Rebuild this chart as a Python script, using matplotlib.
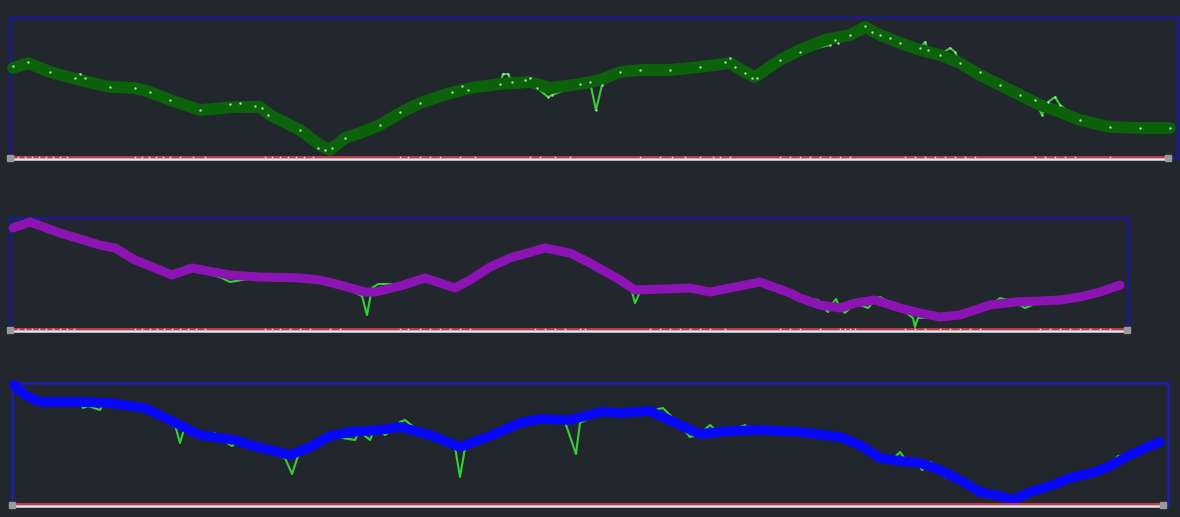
import matplotlib
matplotlib.use('Agg')
import matplotlib.pyplot as plt
import numpy as np

W, H = 1180, 517
BG = '#22262d'

# profile 1 (dark green) - station / depth
p1_x = [13, 28, 50, 80, 110, 135, 150, 170, 200, 235, 260, 270, 300, 320, 330, 345, 360, 380,
        400, 420, 450, 470, 500, 530, 550, 580, 600, 620, 640, 670, 700, 730, 745, 755, 780,
        800, 825, 850, 865, 880, 900, 920, 940, 960, 980, 1000, 1020, 1040, 1060, 1080, 1110,
        1140, 1170]
p1_y = [68, 63, 72, 80, 87, 88, 92, 100, 110, 107, 107, 115, 130, 145, 150, 138, 133, 125,
        113, 103, 93, 88, 84, 82, 88, 84, 80, 72, 70, 70, 67, 63, 72, 77, 60,
        50, 40, 35, 27, 35, 43, 50, 55, 63, 75, 85, 95, 105, 112, 120, 127,
        128, 128]
p1_raw_x = [13, 28, 50, 75, 80, 85, 110, 135, 150, 170, 200, 230, 240, 255, 262, 268, 300, 318,
            325, 332, 345, 380, 400, 420, 452, 462, 468, 500, 503, 508, 512, 525, 530, 537,
            548, 552, 580, 590, 596, 602, 620, 640, 670, 700, 725, 730, 735, 745, 752, 757,
            780, 800, 830, 835, 838, 850, 865, 872, 880, 890, 900, 920, 925, 928, 940, 950,
            955, 960, 980, 1000, 1020, 1035, 1042, 1048, 1055, 1060, 1080, 1110, 1140, 1170]
p1_raw_y = [66, 62, 72, 78, 74, 78, 87, 88, 92, 100, 110, 104, 103, 106, 108, 115, 130, 148,
            150, 148, 138, 125, 112, 103, 92, 86, 90, 84, 74, 74, 82, 80, 78, 88,
            97, 95, 84, 82, 110, 85, 72, 70, 70, 67, 62, 58, 67, 73, 78, 78,
            60, 52, 45, 40, 43, 35, 26, 32, 35, 38, 43, 48, 42, 50, 55, 48,
            52, 63, 72, 85, 95, 100, 115, 102, 97, 105, 120, 127, 128, 128]
p1_ticks = [18, 25, 32, 39, 46, 53, 60, 67, 135, 142, 149, 156, 163, 170, 180, 193, 205,
            265, 272, 280, 288, 296, 304, 313, 400, 408, 420, 430, 440, 460, 475, 530, 540,
            555, 570, 640, 660, 672, 685, 700, 713, 720, 730, 780, 790, 800, 810, 820, 830,
            840, 850, 905, 915, 925, 935, 945, 955, 965, 975, 1035, 1045, 1055, 1065, 1075,
            1110, 1165]

# profile 2 (purple)
p2_x = [13, 30, 60, 100, 115, 135, 150, 172, 192, 230, 260, 300, 320, 340, 365, 375, 400,
        425, 455, 470, 490, 510, 545, 570, 590, 620, 635, 665, 690, 710, 740, 760, 790,
        800, 820, 840, 855, 875, 900, 920, 940, 960, 990, 1015, 1040, 1060, 1080, 1100, 1120]
p2_y = [228, 222, 233, 245, 248, 260, 266, 275, 268, 275, 277, 278, 280, 285, 292, 292, 286,
        278, 288, 280, 267, 258, 248, 253, 263, 280, 290, 289, 288, 292, 286, 282, 293,
        298, 305, 308, 303, 300, 308, 313, 317, 315, 305, 302, 301, 300, 297, 292, 285]
p2_raw_x = [13, 30, 60, 100, 135, 150, 172, 190, 192, 222, 230, 260, 300, 340, 362, 367, 372,
            378, 390, 400, 425, 455, 490, 545, 570, 590, 620, 632, 635, 640, 665, 710, 760,
            780, 800, 818, 822, 828, 832, 836, 840, 845, 855, 868, 875, 880, 900, 913, 915,
            918, 940, 990, 995, 1000, 1015, 1025, 1030, 1040, 1060, 1080, 1100, 1120]
p2_raw_y = [228, 222, 233, 245, 260, 266, 275, 265, 268, 278, 282, 277, 278, 285, 296, 315, 288,
            284, 284, 285, 278, 288, 267, 248, 253, 260, 280, 292, 303, 292, 289, 292, 282,
            290, 298, 300, 306, 312, 304, 299, 308, 313, 303, 308, 300, 297, 308, 318, 327,
            318, 317, 305, 302, 298, 302, 308, 306, 301, 300, 297, 292, 285]
p2_ticks = [18, 25, 32, 39, 46, 53, 60, 67, 74, 135, 142, 150, 157, 164, 172, 180, 188, 196,
            205, 265, 272, 280, 290, 300, 310, 330, 340, 400, 408, 420, 430, 440, 450, 460,
            470, 535, 545, 555, 565, 580, 585, 650, 660, 670, 680, 690, 700, 710, 725, 780,
            790, 800, 820, 840, 845, 850, 855, 905, 915, 925, 940, 950, 960, 970, 980, 1040,
            1050, 1060, 1070, 1080, 1090, 1100, 1110]

# profile 3 (blue)
p3_x = [14, 25, 40, 80, 110, 145, 180, 200, 220, 235, 250, 290, 310, 330, 350, 380, 400,
        430, 460, 490, 520, 540, 570, 600, 620, 650, 680, 700, 730, 760, 800,
        840, 860, 880, 900, 920, 940, 960, 980, 1000, 1013, 1030, 1050, 1070, 1095, 1110,
        1130, 1150, 1160]
p3_y = [385, 395, 402, 402, 403, 408, 425, 435, 438, 440, 445, 455, 447, 436, 432, 430, 427,
        435, 447, 436, 423, 419, 420, 412, 413, 411, 425, 434, 431, 430, 432,
        437, 445, 458, 461, 463, 470, 480, 492, 496, 500, 492, 486, 478, 472, 466,
        455, 446, 442]
p3_raw_x = [14, 25, 40, 80, 83, 88, 100, 103, 110, 145, 175, 180, 185, 200, 215, 220, 232, 240,
            250, 285, 292, 298, 310, 330, 355, 360, 365, 370, 375, 385, 395, 400, 405, 415,
            430, 440, 455, 460, 465, 490, 520, 565, 576, 580, 600, 650, 663, 680, 690, 700,
            710, 718, 730, 745, 752, 760, 800, 840, 860, 880, 895, 900, 905, 918, 922, 930,
            935, 945, 960, 975, 1000, 1013, 1030, 1050, 1070, 1100, 1110, 1118, 1130, 1160]
p3_raw_y = [385, 395, 402, 402, 408, 406, 410, 404, 402, 408, 425, 443, 426, 435, 433, 438, 446, 440,
            445, 458, 474, 456, 447, 436, 440, 430, 436, 440, 428, 435, 428, 422, 420, 428,
            435, 440, 447, 477, 448, 436, 423, 422, 454, 423, 412, 411, 408, 425, 437, 434,
            425, 432, 431, 425, 432, 430, 432, 437, 445, 458, 457, 452, 459, 463, 470, 462,
            465, 477, 480, 490, 496, 500, 492, 486, 478, 472, 466, 456, 455, 442]

fig = plt.figure(figsize=(W / 100, H / 100), dpi=100, facecolor=BG)


def panel(box, base_end, x, y, raw_x, raw_y, color, lw, dots, ticks, box_color):
    left, top, right, bottom = box
    ax = fig.add_axes([left / W, 1 - bottom / H, (right - left) / W, (bottom - top) / H])
    ax.set_facecolor(BG)
    ax.set_xlim(left, right)
    ax.set_ylim(bottom, top)
    for s in ax.spines.values():
        s.set_color(box_color)
        s.set_linewidth(1.8)
    ax.set_xticks([])
    ax.set_yticks([])

    ax.plot(x, y, color=color, lw=lw, solid_capstyle='round', solid_joinstyle='round',
            zorder=3, clip_on=False)
    ax.plot(raw_x, raw_y, color='#35d035', lw=1.5, zorder=2, clip_on=False)
    if dots:
        ax.scatter(raw_x, raw_y, s=3, color='#a8dca8', zorder=5, linewidths=0, clip_on=False)

    # base line of the section
    ax.plot([left, base_end], [bottom + 1, bottom + 1], color='#e8e8e8', lw=1.8, zorder=6,
            clip_on=False)
    ax.plot([left, base_end], [bottom - 1, bottom - 1], color='#d83a3a', lw=1.3, zorder=7,
            clip_on=False)
    if ticks:
        ax.scatter(ticks, [bottom - 1] * len(ticks), s=1.5, color='#f0d0d0', zorder=8,
                   linewidths=0, clip_on=False)
    ax.plot([left, base_end], [bottom, bottom], ls='none', marker='s', ms=4,
            color='#9a9a9a', zorder=9, clip_on=False)
    return ax


panel((10, 17, 1177, 158), 1168, p1_x, p1_y, p1_raw_x, p1_raw_y, '#0b620b', 8.5, True,
      p1_ticks, '#1a1a96')
panel((10, 218, 1128, 330), 1127, p2_x, p2_y, p2_raw_x, p2_raw_y, '#8c14b4', 6.5, False,
      p2_ticks, '#1a1a96')
panel((12, 383, 1168, 505), 1163, p3_x, p3_y, p3_raw_x, p3_raw_y, '#0808f8', 7.0, False,
      None, '#1c1cb0')

fig.savefig('out.png', dpi=100, facecolor=BG)
